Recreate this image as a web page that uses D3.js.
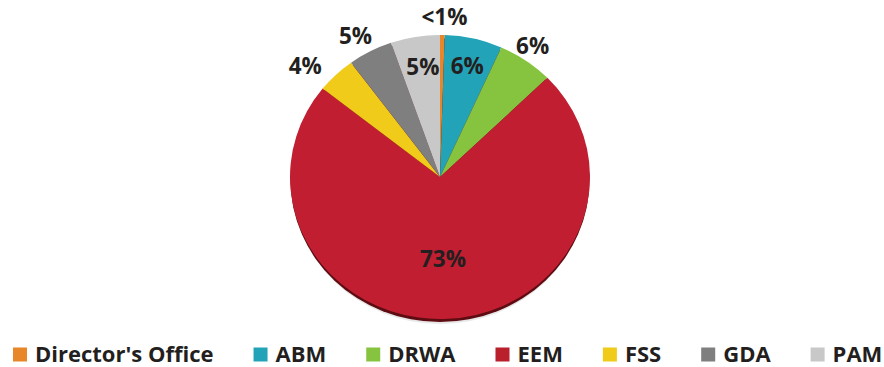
<!DOCTYPE html>
<html>
<head>
<meta charset="utf-8">
<script src="https://cdn.jsdelivr.net/npm/d3@7/dist/d3.min.js"></script>
<style>
  html, body { margin: 0; padding: 0; background: #ffffff; }
  svg { display: block; }
  text { font-family: "Open Sans", "DejaVu Sans", sans-serif; font-weight: 700; fill: #231F20; }
</style>
</head>
<body>
<svg id="chart" width="884" height="367"></svg>
<script>
// ---- data ----
const categories = ["Director's Office", "ABM", "DRWA", "EEM", "FSS", "GDA", "PAM"];
const values = [0.5, 6.2, 6.0, 73.0, 4.2, 4.8, 5.3];
const valueLabels = ["<1%", "6%", "6%", "73%", "4%", "5%", "5%"];
const colors = ["#E8862A", "#23A3B8", "#86C440", "#BA1F2C", "#F0CB1A", "#7F7F7F", "#C8C8C8"];

// ---- label placement (styling) ----
const labelRadius = [1.127, 0.80, 1.113, 0.58, 1.19, 1.144, 0.786];
const labelAngleShift = [0.6, 0.2, -1.2, 0.9, -5.1, -1.8, 1.2]; // degrees

const svg = d3.select("#chart");
const cx = 440, cy = 177, rx = 150, ry = 142;
const sy = ry / rx;

const defs = svg.append("defs");
const grad = defs.append("linearGradient").attr("id", "redGrad")
  .attr("gradientUnits", "userSpaceOnUse")
  .attr("x1", cx - rx).attr("y1", 0).attr("x2", cx + rx).attr("y2", 0);
grad.append("stop").attr("offset", "0%").attr("stop-color", "#C11F31");
grad.append("stop").attr("offset", "100%").attr("stop-color", "#AA1E27");

const pie = d3.pie().sort(null).value(d => d);
const arcs = pie(values);
const arc = d3.arc().innerRadius(0).outerRadius(rx);

// soft shadow and dark rim under pie
svg.append("ellipse").attr("cx", cx).attr("cy", cy + 5).attr("rx", rx - 2).attr("ry", ry)
  .attr("fill", "#e8e8e8");
svg.append("ellipse").attr("cx", cx).attr("cy", cy + 3).attr("rx", rx - 0.5).attr("ry", ry)
  .attr("fill", "#5e0c12");

const g = svg.append("g").attr("transform", `translate(${cx},${cy}) scale(1,${sy})`);
g.selectAll("path.slice").data(arcs).enter().append("path")
  .attr("class", "slice")
  .attr("d", arc)
  .attr("fill", (d, i) => i === 3 ? "url(#redGrad)" : colors[i]);

// labels
const labelAngle = (d, i) => (d.startAngle + d.endAngle) / 2 + labelAngleShift[i] * Math.PI / 180;
svg.selectAll("text.vlabel").data(arcs).enter().append("text")
  .attr("class", "vlabel")
  .attr("x", (d, i) => cx + Math.sin(labelAngle(d, i)) * rx * labelRadius[i])
  .attr("y", (d, i) => cy - Math.cos(labelAngle(d, i)) * ry * labelRadius[i] + 8)
  .attr("text-anchor", "middle")
  .style("font-size", "22.5px")
  .text((d, i) => valueLabels[i]);

// legend
const legend = svg.append("g").attr("class", "legend");
let x = 13;
const sq = 14, gapSqText = 8, gapItems = 40;
categories.forEach((c, i) => {
  legend.append("rect").attr("x", x).attr("y", 347.5).attr("width", sq).attr("height", sq)
    .attr("fill", colors[i]);
  const t = legend.append("text").attr("x", x + sq + gapSqText).attr("y", 361.5)
    .style("font-size", "22px").text(c);
  const w = t.node().getComputedTextLength();
  x += sq + gapSqText + w + gapItems;
});
</script>
</body>
</html>
